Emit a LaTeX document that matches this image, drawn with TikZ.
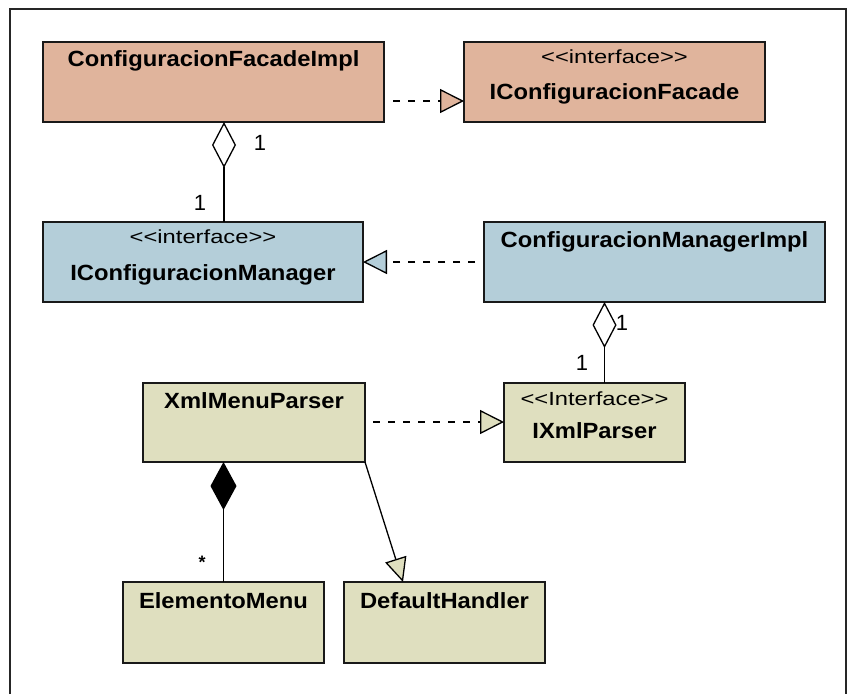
\documentclass[tikz,border=0pt]{standalone}
\usepackage{fontspec}
\setmainfont{Liberation Sans}
\usepackage{graphicx}
\usetikzlibrary{arrows.meta}
\definecolor{salmonfill}{HTML}{E0B49C}
\definecolor{bluefill}{HTML}{B4CED9}
\definecolor{tanfill}{HTML}{DFDFBF}
\newcommand\hsx[2]{\scalebox{#1}[1]{#2}}
\newcommand\stereo[1]{<\kern0pt<#1>\kern0pt>}
\tikzset{
  cls/.style={draw=black!90, line width=1.6pt, inner sep=0pt, outer sep=0pt,
    anchor=north west, minimum height=80pt},
  nm/.style={font=\fontsize{22}{22}\selectfont\bfseries, anchor=base, inner sep=0pt},
  st/.style={font=\fontsize{19}{19}\selectfont, anchor=base, inner sep=0pt},
  mult/.style={font=\fontsize{22}{22}\selectfont, inner sep=0pt},
  conn/.style={line width=1.3pt, draw=black},
  dsh/.style={conn, dash pattern=on 7pt off 8pt},
  realiz/.style={dsh, -{Triangle[length=24pt,width=24pt,fill=#1]}},
  gener/.style={conn, -{Triangle[length=24pt,width=22pt,fill=#1]}},
  aggr/.style={conn, {Diamond[length=46pt,width=24pt,fill=white]}-},
  compo/.style={conn, {Diamond[length=48pt,width=26pt,fill=black]}-}
}
\begin{document}
\begin{tikzpicture}[x=1pt,y=-1pt]
\useasboundingbox (0,0) rectangle (848,694);
% frame
\draw[line width=1.5pt, black!85] (10,694) -- (10,9) -- (846,9) -- (846,694);

% classes
\node[cls, fill=salmonfill, minimum width=341pt] (A) at (43,42) {};
\node[cls, fill=salmonfill, minimum width=301pt] (B) at (464,42) {};
\node[cls, fill=bluefill, minimum width=320pt] (C) at (43,222) {};
\node[cls, fill=bluefill, minimum width=341pt] (D) at (484,222) {};
\node[cls, fill=tanfill, minimum width=222pt, minimum height=79pt] (E) at (143,383) {};
\node[cls, fill=tanfill, minimum width=181pt, minimum height=79pt] (F) at (504,383) {};
\node[cls, fill=tanfill, minimum width=201pt, minimum height=81pt] (G) at (123,582) {};
\node[cls, fill=tanfill, minimum width=201pt, minimum height=81pt] (H) at (344,582) {};

% texts
\node[nm] (At) at ([yshift=-24pt]A.north) {\hsx{1.08}{ConfiguracionFacadeImpl}};
\node[st] (Bs) at ([yshift=-21pt]B.north) {\hsx{1.25}{\stereo{interface}}};
\node[nm] (Bt) at ([yshift=-57pt]B.north) {\hsx{1.08}{IConfiguracionFacade}};
\node[st] (Cs) at ([yshift=-21pt]C.north) {\hsx{1.25}{\stereo{interface}}};
\node[nm] (Ct) at ([yshift=-58pt]C.north) {\hsx{1.08}{IConfiguracionManager}};
\node[nm] (Dt) at ([yshift=-25pt]D.north) {\hsx{1.08}{ConfiguracionManagerImpl}};
\node[nm] (Et) at ([yshift=-25pt]E.north) {\hsx{1.08}{XmlMenuParser}};
\node[st] (Fs) at ([yshift=-22pt]F.north) {\hsx{1.25}{\stereo{Interface}}};
\node[nm] (Ft) at ([yshift=-55pt]F.north) {\hsx{1.08}{IXmlParser}};
\node[nm] (Gt) at ([yshift=-26pt]G.north) {\hsx{1.08}{ElementoMenu}};
\node[nm] (Ht) at ([yshift=-26pt]H.north) {\hsx{1.08}{DefaultHandler}};

% helper coordinates
\coordinate (ab) at (393,101);
\coordinate (dc) at (475,262);
\coordinate (ef) at (373,422);
\coordinate (xac) at (224,0);
\coordinate (xdf) at (604.5,0);
\coordinate (hend) at (403,582);

% connectors
\draw[realiz=salmonfill] (ab) -- (B.west |- ab);
\draw[realiz=bluefill] (dc) -- (C.east |- dc);
\draw[realiz=tanfill] (ef) -- (F.west |- ef);
\draw[aggr] (A.south -| xac) -- (C.north -| xac);
\draw[aggr] (D.south -| xdf) -- (F.north -| xdf);
\draw[compo] (E.south -| G.north) -- (G.north);
\draw[gener=tanfill] (E.south east) -- (hend);

% multiplicities
\node[mult] (m1) at (260,143) {1};
\node[mult] (m2) at (200,203) {1};
\node[mult] (m3) at (622,323) {1};
\node[mult] (m4) at (582,363) {1};
\node[font=\fontsize{18}{18}\selectfont\bfseries, anchor=base, inner sep=0pt] (m5) at (202,568) {*};
\end{tikzpicture}
\end{document}
